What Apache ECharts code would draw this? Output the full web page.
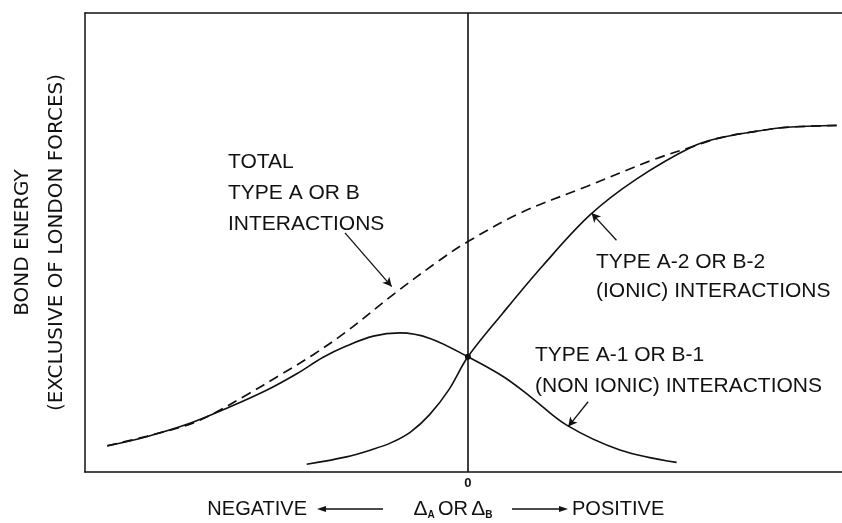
<!DOCTYPE html>
<html>
<head>
<meta charset="utf-8">
<style>
  html, body { margin: 0; padding: 0; background: #fff; }
  #chart { width: 842px; height: 523px; }
</style>
<script src="https://cdn.jsdelivr.net/npm/echarts@6/dist/echarts.min.js"></script>
</head>
<body>
<div id="chart"></div>
<script>
// x: relative electronegativity difference (arbitrary units, 0 = centre line)
// y: bond energy (arbitrary units, 0..100)
var nonIonicX = [-9.42, -8.39, -7.26, -6.21, -5.26, -4.47, -3.78, -3.16, -2.47, -1.78, -0.99, 0, 0.92, 1.62, 2.58, 3.97, 5.45];
var nonIonicY = [5.7, 7.7, 10.6, 14.2, 17.8, 21.4, 25.0, 27.5, 29.6, 30.3, 29.1, 25.1, 20.8, 16.5, 10.2, 4.8, 2.1];

var ionicX = [-4.21, -3.17, -2.5, -2.0, -1.5, -1.0, -0.5, 0, 0.91, 1.96, 3.19, 4.40, 5.87, 6.58, 7.44, 8.32, 9.63];
var ionicY = [1.7, 3.3, 4.9, 6.4, 8.7, 12.5, 17.9, 25.1, 34.6, 45.0, 56.0, 63.8, 70.9, 72.8, 74.1, 75.1, 75.5];

var totalX = [-9.42, -8.39, -7.08, -5.78, -4.91, -4.05, -3.17, -1.96, -0.73, 0, 1.36, 3.10, 4.83, 5.87, 6.58, 7.44, 8.32, 9.63];
var totalY = [5.7, 7.8, 11.0, 16.8, 21.1, 25.5, 30.6, 38.6, 46.2, 50.2, 56.4, 62.2, 68.0, 70.9, 72.8, 74.1, 75.1, 75.5];

// pointer arrows [fromX, fromY, toX, toY]
var arrowTotal = [-3.21, 52.1, -1.99, 40.4];
var arrowIonic = [3.88, 50.5, 3.23, 56.4];
var arrowNonIonic = [3.14, 15.3, 2.62, 9.9];

var crossing = [0, 25.1];

function pairs(xs, ys) {
  return xs.map(function(x, i) { return [x, ys[i]]; });
}
function arrowLine(a) {
  return [{ coord: [a[0], a[1]] }, { coord: [a[2], a[3]] }];
}

var ink = '#111';
var font = '"Liberation Sans", Arial, sans-serif';
var frame = { show: true, onZero: false, lineStyle: { color: ink, width: 1.5 } };

var chart = echarts.init(document.getElementById('chart'), null, { renderer: 'canvas' });
chart.setOption({
  animation: false,
  backgroundColor: '#fff',
  grid: {
    left: 85, top: 13, right: 0, bottom: 51,
    outerBoundsMode: 'none',
    show: false
  },
  xAxis: [
    {
      // the frame runs off the right edge of the page, so the axis stops short of +10
      type: 'value', min: -10, max: 9.77, interval: 10, position: 'bottom',
      axisLine: frame,
      axisTick: { show: false },
      splitLine: { show: false },
      axisLabel: {
        color: ink, fontSize: 13, fontWeight: 'bold', fontFamily: font, margin: 5,
        showMaxLabel: false,
        formatter: function(v) { return v === 0 ? '0' : ''; }
      }
    },
    {
      type: 'value', min: -10, max: 9.77, position: 'top',
      axisLine: frame,
      axisTick: { show: false },
      splitLine: { show: false },
      axisLabel: { show: false }
    }
  ],
  yAxis: {
    type: 'value', min: 0, max: 100, position: 'left',
    axisLine: frame,
    axisTick: { show: false },
    splitLine: { show: false },
    axisLabel: { show: false },
    name: 'BOND ENERGY\n(EXCLUSIVE OF LONDON FORCES)',
    nameLocation: 'middle',
    nameRotate: 90,
    nameGap: 11,
    nameTextStyle: { color: ink, fontSize: 20, fontFamily: '"DejaVu Sans", sans-serif', lineHeight: 34 }
  },
  series: [
    {
      type: 'line', name: 'total',
      data: pairs(totalX, totalY),
      smooth: 0.35, showSymbol: false, symbol: 'none',
      lineStyle: { color: ink, width: 1.7, type: [10, 6] }
    },
    {
      type: 'line', name: 'nonionic',
      data: pairs(nonIonicX, nonIonicY),
      smooth: 0.35, showSymbol: false, symbol: 'none',
      lineStyle: { color: ink, width: 1.6 },
      markPoint: {
        symbol: 'circle', symbolSize: 6,
        itemStyle: { color: ink },
        label: { show: false },
        data: [{ coord: crossing }]
      },
      markLine: {
        silent: true,
        symbol: 'none',
        label: { show: false },
        lineStyle: { color: ink, width: 1.6, type: 'solid' },
        data: [[{ coord: [0, 0] }, { coord: [0, 100] }]]
      }
    },
    {
      type: 'line', name: 'ionic',
      data: pairs(ionicX, ionicY),
      smooth: 0.35, showSymbol: false, symbol: 'none',
      lineStyle: { color: ink, width: 1.6 },
      markLine: {
        silent: true,
        symbol: ['none', 'arrow'],
        symbolSize: [7, 9],
        label: { show: false },
        lineStyle: { color: ink, width: 1.3, type: 'solid' },
        data: [arrowLine(arrowTotal), arrowLine(arrowIonic), arrowLine(arrowNonIonic)]
      }
    }
  ],
  graphic: [
    {
      // the frame is open on the right, keep that edge clean
      type: 'rect', right: 0, top: 16, z: 100,
      shape: { width: 4, height: 453 },
      style: { fill: '#fff' }
    },
    {
      type: 'text', left: 228, top: 147,
      style: {
        text: 'TOTAL\nTYPE A OR B\nINTERACTIONS',
        fill: ink, font: '21px ' + font, lineHeight: 31
      }
    },
    {
      type: 'text', left: 596, top: 248,
      style: {
        text: 'TYPE A-2 OR B-2\n(IONIC) INTERACTIONS',
        fill: ink, font: '21px ' + font, lineHeight: 29
      }
    },
    {
      type: 'text', left: 535, top: 340,
      style: {
        text: 'TYPE A-1 OR B-1\n(NON IONIC) INTERACTIONS',
        fill: ink, font: '21px ' + font, lineHeight: 31
      }
    },
    {
      type: 'text', x: 307, y: 509,
      style: { text: 'NEGATIVE', fill: ink, font: '20px ' + font, align: 'right', verticalAlign: 'middle' }
    },
    {
      type: 'line', shape: { x1: 324, y1: 509, x2: 383, y2: 509 },
      style: { stroke: ink, lineWidth: 1.3 }
    },
    {
      type: 'polygon', shape: { points: [[317, 509], [326, 506], [326, 512]] },
      style: { fill: ink }
    },
    {
      type: 'text', x: 453, y: 509,
      style: {
        text: '{d|Δ}{s|A} {t|OR} {d|Δ}{s|B}',
        align: 'center', verticalAlign: 'middle',
        rich: {
          d: { fill: ink, font: '21px ' + font },
          t: { fill: ink, font: '20px ' + font },
          s: { fill: ink, font: 'bold 10px ' + font, padding: [12, 0, 0, 0] }
        }
      }
    },
    {
      type: 'line', shape: { x1: 512, y1: 509, x2: 561, y2: 509 },
      style: { stroke: ink, lineWidth: 1.3 }
    },
    {
      type: 'polygon', shape: { points: [[568, 509], [559, 506], [559, 512]] },
      style: { fill: ink }
    },
    {
      type: 'text', x: 572, y: 509,
      style: { text: 'POSITIVE', fill: ink, font: '20px ' + font, align: 'left', verticalAlign: 'middle' }
    }
  ]
});
window.addEventListener('resize', function() { chart.resize(); });
</script>
</body>
</html>
